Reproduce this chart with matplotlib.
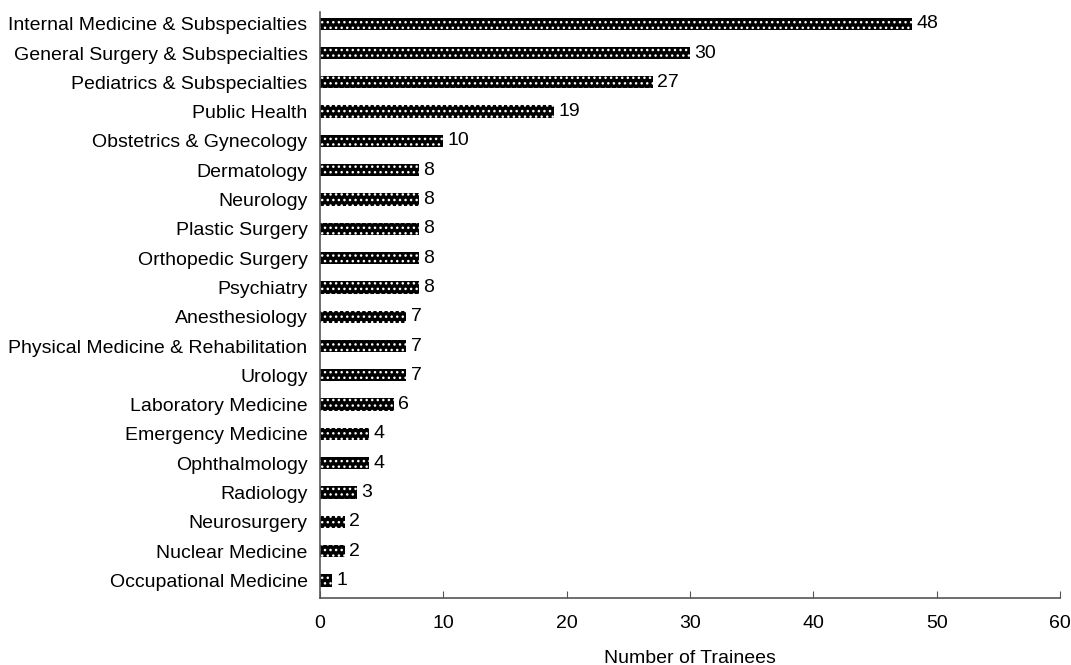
import matplotlib
matplotlib.use("Agg")
import matplotlib.pyplot as plt

plt.rcParams['font.family'] = ['Liberation Sans', 'DejaVu Sans']
plt.rcParams['hatch.color'] = 'white'
plt.rcParams['hatch.linewidth'] = 1.0

specialties = [
    "Internal Medicine & Subspecialties",
    "General Surgery & Subspecialties",
    "Pediatrics & Subspecialties",
    "Public Health",
    "Obstetrics & Gynecology",
    "Dermatology",
    "Neurology",
    "Plastic Surgery",
    "Orthopedic Surgery",
    "Psychiatry",
    "Anesthesiology",
    "Physical Medicine & Rehabilitation",
    "Urology",
    "Laboratory Medicine",
    "Emergency Medicine",
    "Ophthalmology",
    "Radiology",
    "Neurosurgery",
    "Nuclear Medicine",
    "Occupational Medicine",
]
trainees = [48, 30, 27, 19, 10, 8, 8, 8, 8, 8, 7, 7, 7, 6, 4, 4, 3, 2, 2, 1]
x_ticks = [0, 10, 20, 30, 40, 50, 60]

FS = 14

fig = plt.figure(figsize=(10.71, 6.65), dpi=100)
ax = fig.add_axes([320 / 1071, 1 - 598 / 665, 740 / 1071, 586 / 665])

pos = list(range(len(specialties)))
ax.barh(pos, trainees, height=0.42, color='black', edgecolor='white',
        hatch='...', linewidth=0)
for p, v in zip(pos, trainees):
    ax.text(v + 0.35, p, str(v), va='center', ha='left', fontsize=FS)

ax.set_yticks(pos)
ax.set_yticklabels(specialties, fontsize=FS)
ax.set_ylim(19.6, -0.4)
ax.set_xlim(0, 60)
ax.set_xticks(x_ticks)
ax.tick_params(axis='x', direction='in', length=5, labelsize=FS, pad=12, color='#555555')
ax.tick_params(axis='y', length=0, pad=9)
for s in ['top', 'right']:
    ax.spines[s].set_visible(False)
for s in ['left', 'bottom']:
    ax.spines[s].set_color('#555555')
    ax.spines[s].set_linewidth(1.2)
ax.set_xlabel("Number of Trainees", fontsize=FS, labelpad=13)

fig.savefig("out.png", dpi=100)
